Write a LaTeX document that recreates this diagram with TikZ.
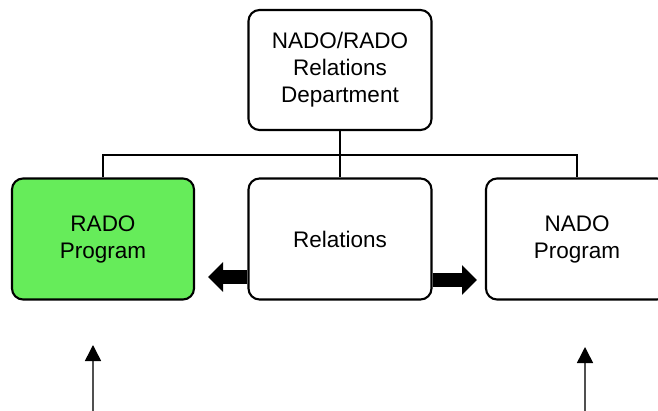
\documentclass[tikz,border=0pt]{standalone}
\usepackage{fontspec}
\setmainfont{Liberation Sans}
\usepackage{tikz}
\usetikzlibrary{arrows.meta,positioning}
\definecolor{orgedge}{RGB}{0,0,0}
\definecolor{orggreen}{RGB}{102,236,90}
\definecolor{orgpin}{RGB}{80,80,80}
\tikzset{
  orgbox/.style={
    draw=orgedge, line width=2.1pt, rounded corners=11pt, fill=white,
    align=center, inner sep=2pt, font=\fontsize{22.5}{27}\selectfont,
    minimum width=183pt, minimum height=121pt
  },
  prog/.style={orgbox, fill=orggreen},
  link/.style={draw=orgedge, line width=2pt},
  fat/.style={-{Triangle[length=15pt,width=29pt]}, draw=orgedge, line width=13.5pt},
  pin/.style={-{Triangle[length=16pt,width=16pt,color=black]}, draw=orgpin, line width=1.5pt}
}
\begin{document}
\begin{tikzpicture}[x=1pt,y=-1pt]
  \useasboundingbox (0,0) rectangle (658,411);
  \clip (0,0) rectangle (658,411);
  % boxes
  \node[orgbox, minimum height=120pt] (dept) at (340,70) {NADO/RADO\\Relations\\Department};
  \node[prog, minimum width=182pt] (rado) at (103,239) {RADO\\Program};
  \node[orgbox] (rel) at (340,239) {Relations};
  \node[orgbox, minimum width=182pt] (nado) at (577,239) {NADO\\Program};
  % tree lines
  \coordinate (bus) at (340,155);
  \draw[link] (dept.south) -- (rel.north);
  \draw[link] (rado.north) |- (bus) -| (nado.north);
  % block arrows
  \coordinate (lefttip) at (208,277);
  \coordinate (righttip) at (477,280);
  \draw[fat] (rel.west |- lefttip) -- (lefttip);
  \draw[fat] (rel.east |- righttip) -- (righttip);
  % arrows from below
  \coordinate (pinl) at (93,345);
  \coordinate (pinr) at (585,347);
  \draw[pin] (pinl |- 0,412) -- (pinl);
  \draw[pin] (pinr |- 0,412) -- (pinr);
\end{tikzpicture}
\end{document}
